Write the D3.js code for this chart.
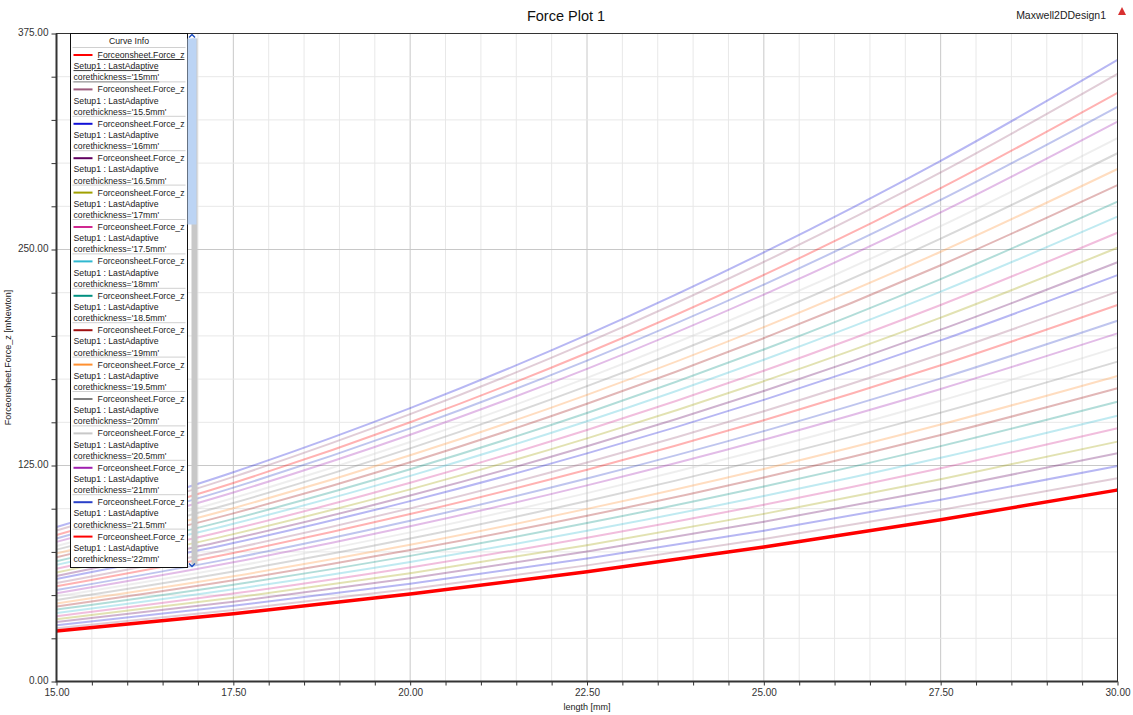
<!DOCTYPE html>
<html>
<head>
<meta charset="utf-8">
<script src="https://cdn.jsdelivr.net/npm/d3@7"></script>
<style>
  body { margin: 0; background: #fff; }
  svg { display: block; font-family: "Liberation Sans", Arial, sans-serif; }
  .tick text { fill: #333; font-size: 10px; }
  .legend-text { font-size: 8.7px; fill: #222; }
</style>
</head>
<body>
<script>
'use strict';

// x positions of the sample points [mm]
var lengths = [15, 17.5, 20, 22.5, 25, 27.5, 30];

// curve parameter corethickness [mm]
var thickness = [15, 15.5, 16, 16.5, 17, 17.5, 18, 18.5, 19, 19.5, 20, 20.5, 21, 21.5, 22,
                 22.5, 23, 23.5, 24, 24.5, 25, 25.5, 26, 26.5, 27, 27.5, 28, 28.5, 29, 29.5, 30];

// Force_z [mNewton], one row per thickness
var forces = [
    [29.2, 39.2, 50.6, 63.5, 77.8, 93.6, 110.8],
    [30.8, 41.4, 53.5, 67.2, 82.5, 99.3, 117.6],
    [32.6, 43.8, 56.6, 71.2, 87.3, 105.2, 124.7],
    [34.4, 46.2, 59.8, 75.2, 92.4, 111.4, 132.1],
    [36.0, 48.4, 62.7, 78.9, 97.0, 117.0, 138.8],
    [37.8, 50.9, 66.0, 83.2, 102.3, 123.4, 146.5],
    [39.6, 53.4, 69.2, 87.2, 107.3, 129.5, 153.8],
    [41.6, 56.0, 72.7, 91.7, 112.8, 136.2, 161.9],
    [43.4, 58.6, 76.1, 95.9, 118.1, 142.7, 169.7],
    [45.2, 60.9, 79.1, 99.9, 123.0, 148.7, 176.8],
    [47.2, 63.7, 82.7, 104.4, 128.7, 155.6, 185.1],
    [49.2, 66.4, 86.3, 109.0, 134.4, 162.5, 193.4],
    [51.1, 69.0, 89.8, 113.5, 139.9, 169.3, 201.5],
    [52.9, 71.4, 93.0, 117.5, 144.9, 175.4, 208.8],
    [55.1, 74.4, 96.9, 122.5, 151.2, 183.0, 217.9],
    [57.0, 77.0, 100.2, 126.7, 156.4, 189.4, 225.6],
    [59.3, 80.1, 104.4, 132.0, 163.0, 197.4, 235.2],
    [61.1, 82.6, 107.6, 136.1, 168.1, 203.6, 242.6],
    [63.1, 85.3, 111.2, 140.7, 173.8, 210.6, 251.0],
    [65.2, 88.2, 115.0, 145.5, 179.8, 217.9, 259.7],
    [67.5, 91.3, 119.0, 150.6, 186.2, 225.6, 269.0],
    [69.6, 94.1, 122.8, 155.4, 192.1, 232.9, 277.7],
    [71.9, 97.3, 126.9, 160.7, 198.7, 240.9, 287.3],
    [74.1, 100.3, 130.9, 165.9, 205.1, 248.7, 296.6],
    [76.3, 103.3, 134.9, 170.9, 211.3, 256.3, 305.7],
    [78.4, 106.2, 138.6, 175.7, 217.3, 263.5, 314.4],
    [80.8, 109.4, 142.8, 180.9, 223.9, 271.5, 324.0],
    [82.8, 112.2, 146.5, 185.7, 229.7, 278.7, 332.6],
    [84.8, 114.9, 150.0, 190.1, 235.3, 285.5, 340.7],
    [87.4, 118.4, 154.7, 196.1, 242.8, 294.6, 351.6],
    [89.4, 121.1, 158.2, 200.6, 248.3, 301.3, 359.7]
];

// default curve colours, cycled every 14 curves
var palette = ['#ff0000', '#9c5b7c', '#1010d8', '#600060', '#a0a000', '#d02890', '#30b8d0',
               '#009080', '#a01010', '#ff9030', '#808080', '#c8c8c8', '#a020b0', '#2a40c8'];

var xTicks = [15, 17.5, 20, 22.5, 25, 27.5, 30];
var yTicks = [0, 125, 250, 375];

var W = 1133, H = 715;
var plot = { left: 56.5, right: 1117.5, top: 33.5, bottom: 681.5 };

var svg = d3.select('body').append('svg').attr('width', W).attr('height', H);

var x = d3.scaleLinear().domain([15, 30]).range([plot.left, plot.right]);
var y = d3.scaleLinear().domain([0, 375]).range([plot.bottom, plot.top]);

var minorX = d3.range(15, 30.001, 0.5);
var minorY = d3.range(0, 375.001, 25);

// Grid lines
var grid = svg.append('g');
grid.selectAll('.gx').data(minorX).enter().append('line')
    .attr('x1', function (d) { return x(d); }).attr('x2', function (d) { return x(d); })
    .attr('y1', plot.top).attr('y2', plot.bottom)
    .attr('stroke', function (d) { return xTicks.indexOf(d) >= 0 ? '#c8c8c8' : '#e8e8e8'; });
grid.selectAll('.gy').data(minorY).enter().append('line')
    .attr('y1', function (d) { return y(d); }).attr('y2', function (d) { return y(d); })
    .attr('x1', plot.left).attr('x2', plot.right)
    .attr('stroke', function (d) { return yTicks.indexOf(d) >= 0 ? '#c8c8c8' : '#e8e8e8'; });

// Axes
var fmt = d3.format('.2f');
var xAxis = d3.axisBottom(x).tickValues(minorX).tickSizeOuter(0).tickSize(4).tickPadding(3)
    .tickFormat(function (d) { return xTicks.indexOf(d) >= 0 ? fmt(d) : ''; });
var yAxis = d3.axisLeft(y).tickValues(minorY).tickSizeOuter(0).tickSize(5).tickPadding(3)
    .tickFormat(function (d) { return yTicks.indexOf(d) >= 0 ? fmt(d) : ''; });

var gx = svg.append('g').attr('transform', 'translate(0,' + plot.bottom + ')').call(xAxis);
var gy = svg.append('g').attr('transform', 'translate(' + plot.left + ',0)').call(yAxis);
[gx, gy].forEach(function (g) {
    g.select('.domain').remove();
    g.selectAll('.tick line').attr('stroke', '#333');
    g.selectAll('.tick text').attr('font-family', '"Liberation Sans", Arial, sans-serif');
});
gy.selectAll('.tick text').attr('dy', '0.2em');

// Curves
var line = d3.line()
    .x(function (d) { return x(d[0]); })
    .y(function (d) { return y(d[1]); })
    .curve(d3.curveMonotoneX);

var series = thickness.map(function (t, i) {
    return { t: t, color: palette[i % palette.length], pts: lengths.map(function (l, j) { return [l, forces[i][j]]; }) };
});

svg.append('clipPath').attr('id', 'clip').append('rect')
    .attr('x', plot.left).attr('y', plot.top)
    .attr('width', plot.right - plot.left).attr('height', plot.bottom - plot.top);

var curves = svg.append('g').attr('clip-path', 'url(#clip)');
curves.selectAll('.faded').data(series.slice(1)).enter().append('path')
    .attr('d', function (d) { return line(d.pts); })
    .attr('fill', 'none').attr('stroke', function (d) { return d.color; })
    .attr('stroke-width', 2).attr('stroke-opacity', 0.3);
curves.append('path')
    .attr('d', line(series[0].pts))
    .attr('fill', 'none').attr('stroke', '#ff0000').attr('stroke-width', 3.5);

// Frame
svg.append('rect').attr('x', plot.left).attr('y', plot.top)
    .attr('width', plot.right - plot.left).attr('height', plot.bottom - plot.top)
    .attr('fill', 'none').attr('stroke', '#333').attr('stroke-width', 1);
svg.append('path')
    .attr('d', 'M' + plot.left + ',' + plot.top + 'V' + plot.bottom + 'H' + plot.right)
    .attr('fill', 'none').attr('stroke', '#333').attr('stroke-width', 2);

// Titles
svg.append('text').attr('x', 566).attr('y', 21).attr('text-anchor', 'middle')
    .attr('font-size', 14.5).attr('fill', '#111').text('Force Plot 1');
svg.append('text').attr('x', 1106).attr('y', 19).attr('text-anchor', 'end')
    .attr('font-size', 10.5).attr('fill', '#222').text('Maxwell2DDesign1');
svg.append('path').attr('d', 'M1122,7 L1126,15 L1118,15 Z').attr('fill', '#d83030');
svg.append('text').attr('x', 587).attr('y', 710).attr('text-anchor', 'middle')
    .attr('font-size', 9).attr('fill', '#222').text('length [mm]');
svg.append('text').attr('transform', 'translate(11,' + ((plot.top + plot.bottom) / 2) + ') rotate(-90)')
    .attr('text-anchor', 'middle').attr('font-size', 9).attr('fill', '#222')
    .text('Forceonsheet.Force_z [mNewton]');

// Legend (Curve Info)
var lg = { x: 70.5, y: 33.5, w: 117, h: 534, head: 14, row: 34.4 };
var legend = svg.append('g');
legend.append('rect').attr('x', lg.x).attr('y', lg.y).attr('width', lg.w).attr('height', lg.h)
    .attr('fill', '#fff').attr('stroke', '#111');
// scrollbar
legend.append('rect').attr('x', lg.x + lg.w + 4).attr('y', lg.y + 5).attr('width', 6).attr('height', lg.h - 8)
    .attr('fill', '#c8c8c8');
legend.append('rect').attr('x', lg.x + lg.w).attr('y', lg.y + 5).attr('width', 9).attr('height', 186)
    .attr('fill', '#bcd4f4');
legend.append('path').attr('d', 'M' + (lg.x + lg.w + 1.5) + ',' + (lg.y + 4) + 'l3,-3l3,3')
    .attr('fill', 'none').attr('stroke', '#2050c0').attr('stroke-width', 1.5);
legend.append('path').attr('d', 'M' + (lg.x + lg.w + 1.5) + ',' + (lg.y + lg.h - 4) + 'l3,3l3,-3')
    .attr('fill', 'none').attr('stroke', '#2050c0').attr('stroke-width', 1.5);

legend.append('text').attr('x', lg.x + lg.w / 2).attr('y', lg.y + 10).attr('text-anchor', 'middle')
    .attr('class', 'legend-text').text('Curve Info');

var rows = legend.selectAll('.entry').data(series.slice(0, 15)).enter().append('g')
    .attr('transform', function (d, i) { return 'translate(' + lg.x + ',' + (lg.y + lg.head + i * lg.row) + ')'; });
rows.append('line').attr('x1', 2).attr('x2', lg.w - 2).attr('y1', 0).attr('y2', 0).attr('stroke', '#d0d0d0');
rows.append('line').attr('x1', 3).attr('x2', 22).attr('y1', 7.5).attr('y2', 7.5)
    .attr('stroke', function (d) { return d.color; }).attr('stroke-width', 2);
var labels = [
    function () { return 'Forceonsheet.Force_z'; },
    function () { return 'Setup1 : LastAdaptive'; },
    function (d) { return "corethickness='" + d.t + "mm'"; }
];
labels.forEach(function (f, k) {
    rows.append('text').attr('class', 'legend-text')
        .attr('x', k === 0 ? lg.w - 3 : 3).attr('y', 10.5 + k * 11.2)
        .attr('text-anchor', k === 0 ? 'end' : 'start')
        .attr('text-decoration', function (d, i) { return i === 0 ? 'underline' : null; })
        .text(f);
});
</script>
</body>
</html>
